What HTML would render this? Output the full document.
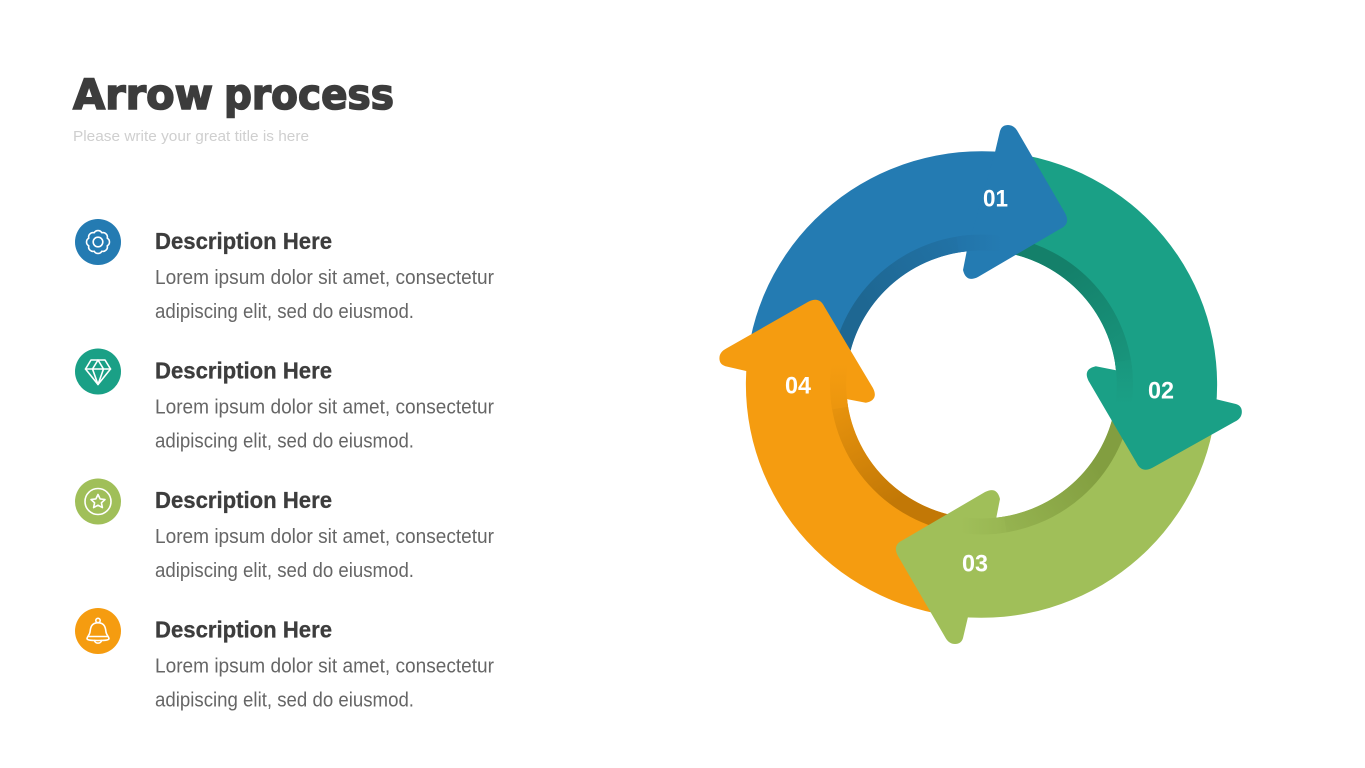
<!DOCTYPE html>
<html>
<head>
<meta charset="utf-8">
<style>
html,body{margin:0;padding:0;background:#fff;width:1365px;height:768px;overflow:hidden}
svg{display:block}
text{font-family:"Liberation Sans",sans-serif}
.t{font-family:"DejaVu Sans",sans-serif;font-size:42px;font-weight:700;fill:#3c3c3c;stroke:#3c3c3c;stroke-width:1.6}
.h{font-weight:700;font-size:23px;fill:#3d3d3d;stroke:#3d3d3d;stroke-width:.3}
.b{font-size:20px;fill:#666}
.n{font-weight:700;font-size:24px;fill:#fff;text-anchor:middle}
.i{fill:none;stroke:#fff;stroke-width:1.6;stroke-linejoin:round;stroke-linecap:round}
</style>
</head>
<body>
<svg width="1365" height="768" viewBox="0 0 1365 768" xmlns="http://www.w3.org/2000/svg">
<defs>
<linearGradient id="gb" gradientUnits="userSpaceOnUse" x1="866" y1="303" x2="975" y2="240"><stop offset="0" stop-color="#1e6792"/><stop offset="1" stop-color="#2274a9"/></linearGradient>
<linearGradient id="gg" gradientUnits="userSpaceOnUse" x1="866" y1="303" x2="975" y2="240"><stop offset="0" stop-color="#14806a"/><stop offset="1" stop-color="#19977e"/></linearGradient>
<linearGradient id="gl" gradientUnits="userSpaceOnUse" x1="866" y1="303" x2="975" y2="240"><stop offset="0" stop-color="#829e40"/><stop offset="1" stop-color="#98b652"/></linearGradient>
<linearGradient id="go" gradientUnits="userSpaceOnUse" x1="866" y1="303" x2="975" y2="240"><stop offset="0" stop-color="#c27806"/><stop offset="1" stop-color="#ec960e"/></linearGradient>
<linearGradient id="xb" gradientUnits="userSpaceOnUse" x1="958" y1="240" x2="1002" y2="240"><stop offset="0" stop-color="#2274a9"/><stop offset="1" stop-color="#247bb2"/></linearGradient>
<linearGradient id="xg" gradientUnits="userSpaceOnUse" x1="958" y1="240" x2="1002" y2="240"><stop offset="0" stop-color="#19977e"/><stop offset="1" stop-color="#1aa086"/></linearGradient>
<linearGradient id="xl" gradientUnits="userSpaceOnUse" x1="958" y1="240" x2="1002" y2="240"><stop offset="0" stop-color="#98b652"/><stop offset="1" stop-color="#a0bf59"/></linearGradient>
<linearGradient id="xo" gradientUnits="userSpaceOnUse" x1="958" y1="240" x2="1002" y2="240"><stop offset="0" stop-color="#ec960e"/><stop offset="1" stop-color="#f59c10"/></linearGradient>
<path id="body" d="M749.3 362A233.3 233.3 0 0 1 1005 152.4L985 250.5A134 134 0 0 0 849.4 362Z"/>
<path id="band" fill="none" stroke-width="16" d="M841.3 362A142 142 0 0 1 975 242.700"/>
<path id="ext" fill="none" stroke-width="16" d="M958 244.500A142 142 0 0 1 1002 244"/>
<path id="head" d="M994.9 152L999.8 131Q1001.5 125 1007.7 125Q1014 125 1017.6 132L1064.2 213Q1070.1 224 1059.2 229L978 277Q966.2 283 963.2 270L967.1 250Z"/>
</defs>

<rect width="1365" height="768" fill="#fff"/>

<!-- title -->
<text class="t" x="73" y="109" textLength="140" lengthAdjust="spacingAndGlyphs">Arrow</text>
<text class="t" x="224" y="109" textLength="170" lengthAdjust="spacingAndGlyphs">process</text>
<text x="73" y="141" font-size="14.5" fill="#cfcfcf" textLength="236" lengthAdjust="spacingAndGlyphs">Please write your great title is here</text>

<!-- list -->
<circle cx="98" cy="242" r="23" fill="#247bb2"/>
<circle cx="98" cy="371.5" r="23" fill="#1aa086"/>
<circle cx="98" cy="501.5" r="23" fill="#a0bf59"/>
<circle cx="98" cy="631" r="23" fill="#f59c10"/>

<g transform="translate(98 242)" class="i">
<path d="M9.24 3.83A4.4 4.4 0 0 1 3.83 9.24A4.4 4.4 0 0 1 -3.83 9.24A4.4 4.4 0 0 1 -9.24 3.83A4.4 4.4 0 0 1 -9.24 -3.83A4.4 4.4 0 0 1 -3.83 -9.24A4.4 4.4 0 0 1 3.83 -9.24A4.4 4.4 0 0 1 9.24 -3.83A4.4 4.4 0 0 1 9.24 3.83Z"/>
<circle r="4.8"/>
</g>
<g class="i">
<path d="M91 360H105L110.5 369L98 384.5L85.5 369Z"/>
<path d="M85.5 369H110.5M92.5 369L98 384.5L103.5 369M92.5 369L98 360L103.5 369"/>
</g>
<g class="i">
<circle cx="98" cy="501.5" r="13"/>
<path d="M98 494.5L100.100 498.900L105 499.500L101.400 502.800L102.400 507.600L98 505.200L93.600 507.600L94.600 502.800L91 499.500L95.900 498.900Z"/>
</g>
<g class="i">
<circle cx="98" cy="620.5" r="2.2"/>
<path d="M98 622.7C91 623 90.5 628 90 632C89.6 635 87.5 636 87 638.5C87 640 90 640.5 98 640.5C106 640.5 109 640 109 638.5C108.500 636 106.400 635 106 632C105.500 628 105 623 98 622.700Z"/>
<path d="M94.500 640.500C95 644 101 644 101.500 640.500"/>
<path d="M89 636.500H107"/>
</g>

<text class="h" x="155" y="249" textLength="177" lengthAdjust="spacingAndGlyphs">Description Here</text>
<text class="b" x="155" y="284" textLength="339" lengthAdjust="spacingAndGlyphs">Lorem ipsum dolor sit amet, consectetur</text>
<text class="b" x="155" y="318" textLength="259" lengthAdjust="spacingAndGlyphs">adipiscing elit, sed do eiusmod.</text>

<text class="h" x="155" y="378.500" textLength="177" lengthAdjust="spacingAndGlyphs">Description Here</text>
<text class="b" x="155" y="413.500" textLength="339" lengthAdjust="spacingAndGlyphs">Lorem ipsum dolor sit amet, consectetur</text>
<text class="b" x="155" y="447.500" textLength="259" lengthAdjust="spacingAndGlyphs">adipiscing elit, sed do eiusmod.</text>

<text class="h" x="155" y="508" textLength="177" lengthAdjust="spacingAndGlyphs">Description Here</text>
<text class="b" x="155" y="543" textLength="339" lengthAdjust="spacingAndGlyphs">Lorem ipsum dolor sit amet, consectetur</text>
<text class="b" x="155" y="577" textLength="259" lengthAdjust="spacingAndGlyphs">adipiscing elit, sed do eiusmod.</text>

<text class="h" x="155" y="637.500" textLength="177" lengthAdjust="spacingAndGlyphs">Description Here</text>
<text class="b" x="155" y="672.500" textLength="339" lengthAdjust="spacingAndGlyphs">Lorem ipsum dolor sit amet, consectetur</text>
<text class="b" x="155" y="706.500" textLength="259" lengthAdjust="spacingAndGlyphs">adipiscing elit, sed do eiusmod.</text>

<!-- cycle: scale(1.01,1) about centre (981.5,384.5) -->
<g transform="translate(981.5 384.5) scale(1.01 1) translate(-981.5 -384.5)">
  <g>
    <use href="#body" fill="#247bb2"/><use href="#band" stroke="url(#gb)"/>
  </g>
  <g transform="rotate(90 981.5 384.5)">
    <use href="#body" fill="#1aa086"/><use href="#band" stroke="url(#gg)"/>
  </g>
  <g transform="rotate(180 981.5 384.5)">
    <use href="#body" fill="#a0bf59"/><use href="#band" stroke="url(#gl)"/>
  </g>
  <g transform="rotate(270 981.5 384.5)">
    <use href="#body" fill="#f59c10"/><use href="#band" stroke="url(#go)"/>
  </g>
  <use href="#head" fill="#247bb2"/>
  <use href="#head" fill="#1aa086" transform="translate(-1.5 -1) rotate(90.5 981.5 384.5)"/>
  <use href="#head" fill="#a0bf59" transform="rotate(180 981.5 384.5)"/>
  <use href="#head" fill="#f59c10" transform="rotate(270 981.5 384.5)"/>
  <use href="#ext" stroke="url(#xb)"/>
  <use href="#ext" stroke="url(#xg)" transform="rotate(90 981.5 384.5)"/>
  <use href="#ext" stroke="url(#xl)" transform="rotate(180 981.5 384.5)"/>
  <use href="#ext" stroke="url(#xo)" transform="rotate(270 981.5 384.5)"/>
</g>

<text class="n" x="995.500" y="206.500" textLength="25" lengthAdjust="spacingAndGlyphs">01</text>
<text class="n" x="1161" y="398.500" textLength="26" lengthAdjust="spacingAndGlyphs">02</text>
<text class="n" x="975" y="571.500" textLength="26" lengthAdjust="spacingAndGlyphs">03</text>
<text class="n" x="798" y="393.500" textLength="26" lengthAdjust="spacingAndGlyphs">04</text>
</svg>
</body>
</html>
